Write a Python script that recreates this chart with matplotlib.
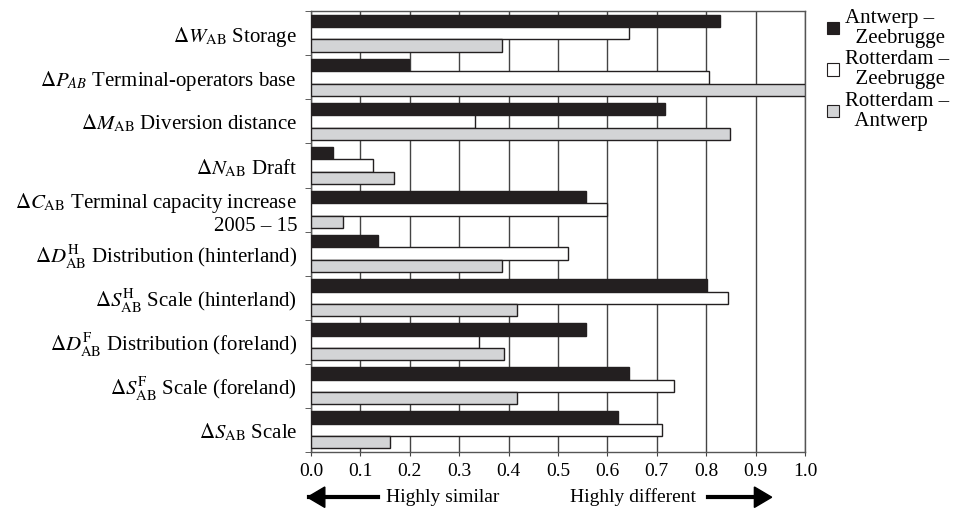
import matplotlib.pyplot as plt
import numpy as np
from matplotlib.patches import Patch

plt.rcParams['font.family'] = ['Liberation Serif', 'DejaVu Serif']
plt.rcParams['mathtext.fontset'] = 'stix'

categories = [
    r'$\Delta W_{\rm AB}$ Storage',
    r'$\Delta P_{AB}$ Terminal-operators base',
    r'$\Delta M_{\rm AB}$ Diversion distance',
    r'$\Delta N_{\rm AB}$ Draft',
    r'$\Delta C_{\rm AB}$ Terminal capacity increase' + '\n2005 – 15',
    r'$\Delta D^{\rm H}_{\rm AB}$ Distribution (hinterland)',
    r'$\Delta S^{\rm H}_{\rm AB}$ Scale (hinterland)',
    r'$\Delta D^{\rm F}_{\rm AB}$ Distribution (foreland)',
    r'$\Delta S^{\rm F}_{\rm AB}$ Scale (foreland)',
    r'$\Delta S_{\rm AB}$ Scale',
]
antwerp_zeebrugge = [0.827, 0.199, 0.716, 0.044, 0.557, 0.135, 0.802, 0.557, 0.644, 0.621]
rotterdam_zeebrugge = [0.644, 0.806, 0.333, 0.125, 0.600, 0.521, 0.845, 0.341, 0.735, 0.711]
rotterdam_antwerp = [0.387, 1.0, 0.848, 0.169, 0.065, 0.387, 0.417, 0.391, 0.418, 0.160]
series_labels = ['Antwerp –\n  Zeebrugge', 'Rotterdam –\n  Zeebrugge', 'Rotterdam –\n  Antwerp']
xticks = [0.0, 0.1, 0.2, 0.3, 0.4, 0.5, 0.6, 0.7, 0.8, 0.9, 1.0]

colors = ['#231f20', 'white', '#d3d4d6']
edge = '#231f20'

fig = plt.figure(figsize=(9.61, 5.11), dpi=100)
ax = fig.add_axes([0.3236, 0.1155, 0.5141, 0.8625])

y = np.arange(len(categories))
h = 0.28
for k, vals in enumerate([antwerp_zeebrugge, rotterdam_zeebrugge, rotterdam_antwerp]):
    ax.barh(y + (k - 1) * h, vals, height=h, color=colors[k], edgecolor=edge,
            linewidth=1, zorder=3)

ax.set_xlim(0, 1.0)
ax.set_ylim(len(categories) - 0.5, -0.5)
ax.set_xticks(xticks)
ax.set_xticklabels([f'{t:.1f}' for t in xticks], fontsize=14)
ax.grid(axis='x', color='#444444', linewidth=1, zorder=0)
ax.set_yticks(y)
ax.set_yticklabels(categories, fontsize=15, ha='right', multialignment='right')
ax.tick_params(axis='y', length=0, pad=10)
ax.set_yticks(np.arange(len(categories) + 1) - 0.5, minor=True)
ax.tick_params(axis='y', which='minor', length=4, direction='out', color='#444444')
ax.tick_params(axis='x', length=3, direction='out', color='#444444', pad=5)
for s in ax.spines.values():
    s.set_color('#555555')
    s.set_linewidth(1)

handles = [Patch(facecolor=c, edgecolor=edge, linewidth=0.8) for c in colors]
leg = ax.legend(handles, series_labels, loc='upper left', bbox_to_anchor=(1.028, 1.025),
                frameon=False, fontsize=15, handlelength=0.55, handleheight=0.55,
                handletextpad=0.3, labelspacing=0.1, borderaxespad=0)
for t in leg.get_texts():
    t.set_linespacing(1.1)

# arrows under axis
fig.text(0.402, 0.027, 'Highly similar', fontsize=14, va='center', ha='left')
fig.text(0.593, 0.027, 'Highly different', fontsize=14, va='center', ha='left')
fig.add_artist(plt.Line2D([0.322, 0.393], [0.027, 0.027], color='black', lw=3))
fig.patches.append(plt.Polygon([[0.320, 0.027], [0.338, 0.047], [0.338, 0.007]],
                               closed=True, color='black', transform=fig.transFigure))
fig.add_artist(plt.Line2D([0.737, 0.790], [0.027, 0.027], color='black', lw=3))
fig.patches.append(plt.Polygon([[0.803, 0.027], [0.785, 0.047], [0.785, 0.007]],
                               closed=True, color='black', transform=fig.transFigure))

fig.savefig('out.png', dpi=100)
